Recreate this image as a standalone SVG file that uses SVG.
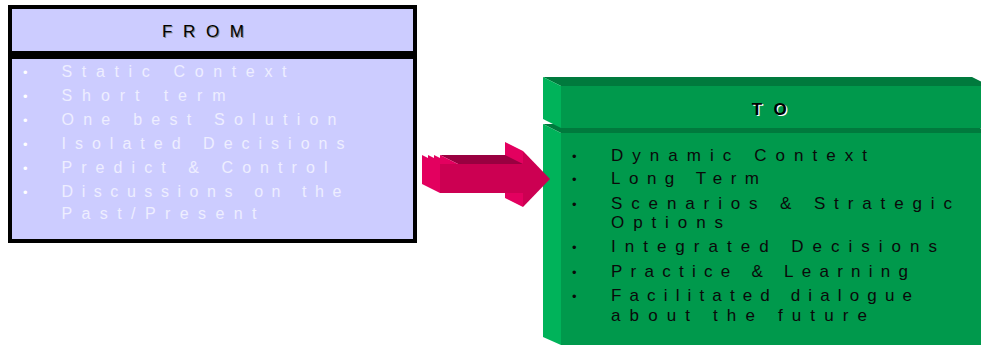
<svg xmlns="http://www.w3.org/2000/svg" width="981" height="345" viewBox="0 0 981 345">
<style>
.box{fill:#CCCCFF;stroke:#000;stroke-width:4}
.ft{font-family:"Liberation Sans",Arial,sans-serif;font-size:16px;fill:#EEEEFF}
.tt{font-family:"Liberation Sans",Arial,sans-serif;font-size:17px;fill:#0A0A0A}
.hd{font-family:"Liberation Sans",Arial,sans-serif;font-size:17px}
.bl{font-size:13px}
.gf{fill:#00994C}.gl{fill:#00B35A}.gt{fill:#007A3D}
.af{fill:#CC0052}.al{fill:#E3005F}.at{fill:#990040}
</style>
<rect width="981" height="345" fill="#fff"/>
<g id="from-node">
<rect class="box" x="10" y="7" width="405" height="46"/>
<rect class="box" x="10" y="57" width="405" height="184"/>
<text class="hd" x="163" y="37.5" fill="#888" textLength="82" lengthAdjust="spacing">FROM</text>
<text class="hd" x="162" y="36.7" fill="#000" textLength="82" lengthAdjust="spacing">FROM</text>
<g class="ft">
<text class="bl" x="23" y="77" fill="#fff">•</text>
<text class="bl" x="23" y="101" fill="#fff">•</text>
<text class="bl" x="23" y="125" fill="#fff">•</text>
<text class="bl" x="23" y="149" fill="#fff">•</text>
<text class="bl" x="23" y="173" fill="#fff">•</text>
<text class="bl" x="23" y="197" fill="#fff">•</text>
<text x="61.5" y="77" textLength="225" lengthAdjust="spacing">Static Context</text>
<text x="61.5" y="101" textLength="164" lengthAdjust="spacing">Short term</text>
<text x="61.5" y="125" textLength="275" lengthAdjust="spacing">One best Solution</text>
<text x="61.5" y="149" textLength="283" lengthAdjust="spacing">Isolated Decisions</text>
<text x="61.5" y="173" textLength="266" lengthAdjust="spacing">Predict &amp; Control</text>
<text x="61.5" y="197" textLength="280" lengthAdjust="spacing">Discussions on the</text>
<text x="61.5" y="218.5" textLength="195" lengthAdjust="spacing">Past/Present</text>
</g>
</g>
<g id="to-node">
<polygon class="gt" points="543,124 972,124 990,133 561,133"/>
<polygon class="gl" points="543,124 561,133 561,345 543,337"/>
<rect class="gf" x="561" y="133" width="420" height="212"/>
<polygon class="gt" points="543,77 972,77 990,86 561,86"/>
<polygon class="gl" points="543,77 561,86 561,128 543,119"/>
<rect class="gf" x="561" y="86" width="420" height="42"/>
<text class="hd" x="753" y="116" fill="#fff" font-weight="bold" textLength="35" lengthAdjust="spacing">TO</text>
<text class="hd" x="751.7" y="115" fill="#000" font-weight="bold" textLength="35" lengthAdjust="spacing">TO</text>
<g class="tt">
<text class="bl" x="572" y="160.7">•</text>
<text class="bl" x="572" y="184.3">•</text>
<text class="bl" x="572" y="208.5">•</text>
<text class="bl" x="572" y="252.3">•</text>
<text class="bl" x="572" y="276.7">•</text>
<text class="bl" x="572" y="300.7">•</text>
<text x="611" y="160.7" textLength="256" lengthAdjust="spacing">Dynamic Context</text>
<text x="611" y="184.3" textLength="148" lengthAdjust="spacing">Long Term</text>
<text x="611" y="208.5" textLength="341" lengthAdjust="spacing">Scenarios &amp; Strategic</text>
<text x="611" y="228.3" textLength="112" lengthAdjust="spacing">Options</text>
<text x="611" y="252.3" textLength="326" lengthAdjust="spacing">Integrated Decisions</text>
<text x="611" y="276.7" textLength="297" lengthAdjust="spacing">Practice &amp; Learning</text>
<text x="611" y="300.7" textLength="301" lengthAdjust="spacing">Facilitated dialogue</text>
<text x="611" y="320.5" textLength="256" lengthAdjust="spacing">about the future</text>
</g>
</g>
<g id="connectors">
<g id="arrow">
<polygon class="al" points="505,142 523,151 523,207 505,198"/>
<polygon class="at" points="440,155 505,155 523,164 458,164"/>
<polygon class="al" points="440,155 458,164 458,193 440,184"/>
<rect class="af" x="458" y="164" width="65.5" height="29"/>
<polygon class="af" points="523,151 550,179 523,207"/>
<polygon class="al" points="434,155 452,164 452,193 434,184"/>
<rect class="af" x="452" y="164" width="6" height="29"/>
<polygon class="al" points="428,155 446,164 446,193 428,184"/>
<rect class="af" x="446" y="164" width="6" height="29"/>
<polygon class="al" points="422,155 440,164 440,193 422,184"/>
<rect class="af" x="440" y="164" width="6" height="29"/>
</g>
</g>
</svg>
